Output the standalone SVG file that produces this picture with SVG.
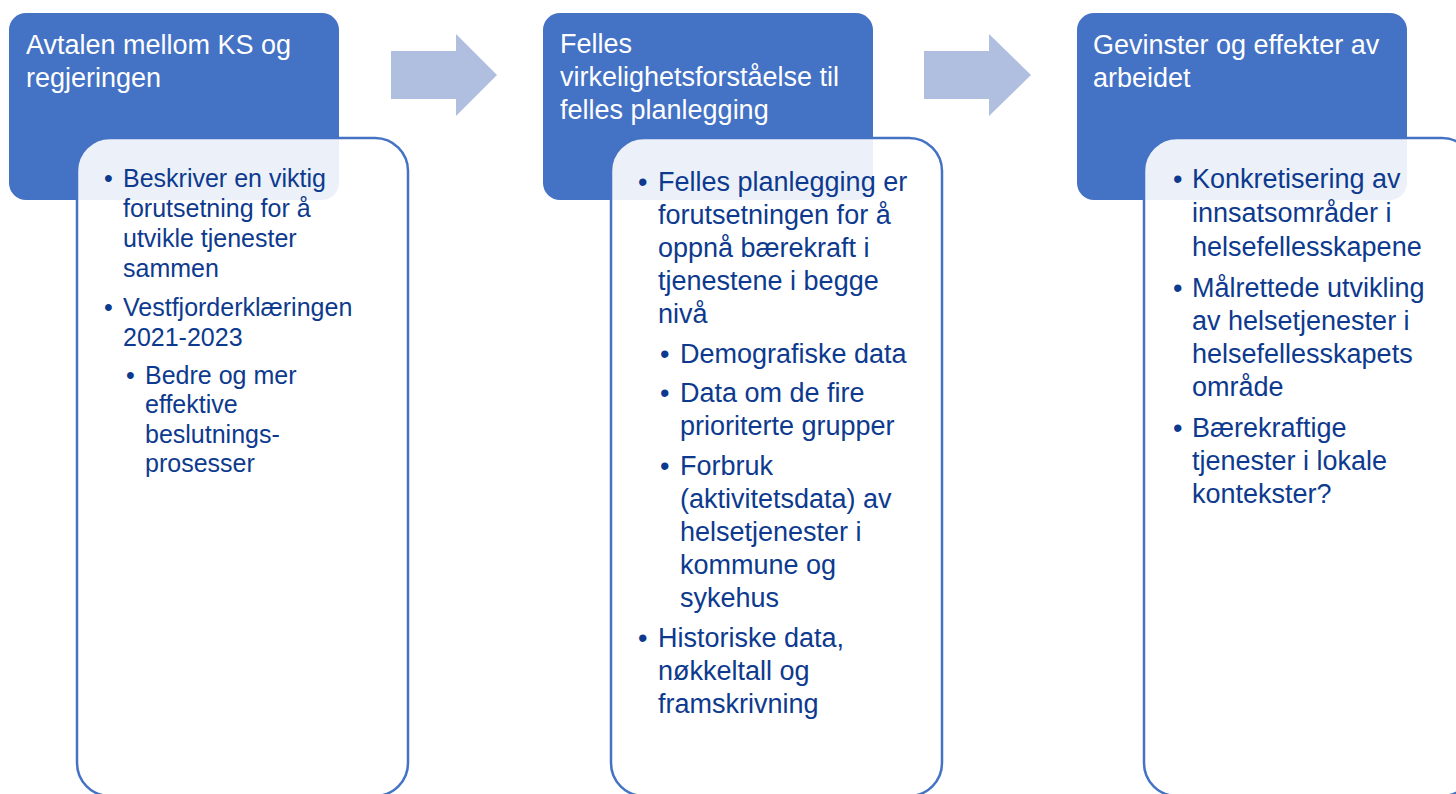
<svg xmlns="http://www.w3.org/2000/svg" width="1456" height="794" viewBox="0 0 1456 794">
<style>
.head{fill:#4472C4;}
.card{fill:#FFFFFF;fill-opacity:0.9;stroke:#4472C4;stroke-width:2.5;}
.arrow{fill:#B0BEE0;}
.title{font-family:"Liberation Sans",Arial,sans-serif;font-size:27px;fill:#FFFFFF;}
.body{font-family:"Liberation Sans",Arial,sans-serif;fill:#0D3A8E;}
.s25{font-size:25px;}
.s27{font-size:27px;}
</style>
<rect width="1456" height="794" fill="#FFFFFF"/>
<g id="connectors">
<polygon class="arrow" points="391,51 456,51 456,34 497,75 456,116 456,99 391,99"/>
<polygon class="arrow" points="924,51 989,51 989,34 1031,75 989,116 989,99 924,99"/>
</g>
<g id="node1">
<rect class="head" x="9" y="13" width="330" height="187" rx="17"/>
<text class="title"><tspan x="26" y="54">Avtalen mellom KS og</tspan><tspan x="26" y="87">regjeringen</tspan></text>
<rect class="card" x="77" y="138" width="331" height="658" rx="33"/>
<text class="body s25">
<tspan x="104" y="187">•</tspan><tspan x="123" y="187">Beskriver en viktig</tspan>
<tspan x="123" y="217">forutsetning for å</tspan>
<tspan x="123" y="247">utvikle tjenester</tspan>
<tspan x="123" y="277">sammen</tspan>
<tspan x="104" y="316">•</tspan><tspan x="123" y="316">Vestfjorderklæringen</tspan>
<tspan x="123" y="346">2021-2023</tspan>
<tspan x="126" y="384">•</tspan><tspan x="145" y="384">Bedre og mer</tspan>
<tspan x="145" y="413">effektive</tspan>
<tspan x="145" y="443">beslutnings-</tspan>
<tspan x="145" y="472">prosesser</tspan>
</text>
</g>
<g id="node2">
<rect class="head" x="543" y="13" width="330" height="187" rx="17"/>
<text class="title"><tspan x="560" y="53">Felles</tspan><tspan x="560" y="86">virkelighetsforståelse til</tspan><tspan x="560" y="119">felles planlegging</tspan></text>
<rect class="card" x="611" y="138" width="331" height="658" rx="33"/>
<text class="body s27">
<tspan x="638" y="191">•</tspan><tspan x="658" y="191">Felles planlegging er</tspan>
<tspan x="658" y="224">forutsetningen for å</tspan>
<tspan x="658" y="257">oppnå bærekraft i</tspan>
<tspan x="658" y="290">tjenestene i begge</tspan>
<tspan x="658" y="323">nivå</tspan>
<tspan x="660" y="363">•</tspan><tspan x="680" y="363">Demografiske data</tspan>
<tspan x="660" y="402">•</tspan><tspan x="680" y="402">Data om de fire</tspan>
<tspan x="680" y="435">prioriterte grupper</tspan>
<tspan x="660" y="475">•</tspan><tspan x="680" y="475">Forbruk</tspan>
<tspan x="680" y="508">(aktivitetsdata) av</tspan>
<tspan x="680" y="541">helsetjenester i</tspan>
<tspan x="680" y="574">kommune og</tspan>
<tspan x="680" y="607">sykehus</tspan>
<tspan x="638" y="647">•</tspan><tspan x="658" y="647">Historiske data,</tspan>
<tspan x="658" y="680">nøkkeltall og</tspan>
<tspan x="658" y="713">framskrivning</tspan>
</text>
</g>
<g id="node3">
<rect class="head" x="1077" y="13" width="330" height="187" rx="17"/>
<text class="title"><tspan x="1093" y="54">Gevinster og effekter av</tspan><tspan x="1093" y="87">arbeidet</tspan></text>
<rect class="card" x="1144" y="138" width="331" height="658" rx="33"/>
<text class="body s27">
<tspan x="1173" y="188">•</tspan><tspan x="1192" y="188">Konkretisering av</tspan>
<tspan x="1192" y="222">innsatsområder i</tspan>
<tspan x="1192" y="256">helsefellesskapene</tspan>
<tspan x="1173" y="297">•</tspan><tspan x="1192" y="297">Målrettede utvikling</tspan>
<tspan x="1192" y="330">av helsetjenester i</tspan>
<tspan x="1192" y="363">helsefellesskapets</tspan>
<tspan x="1192" y="396">område</tspan>
<tspan x="1173" y="437">•</tspan><tspan x="1192" y="437">Bærekraftige</tspan>
<tspan x="1192" y="470">tjenester i lokale</tspan>
<tspan x="1192" y="503">kontekster?</tspan>
</text>
</g>
</svg>
